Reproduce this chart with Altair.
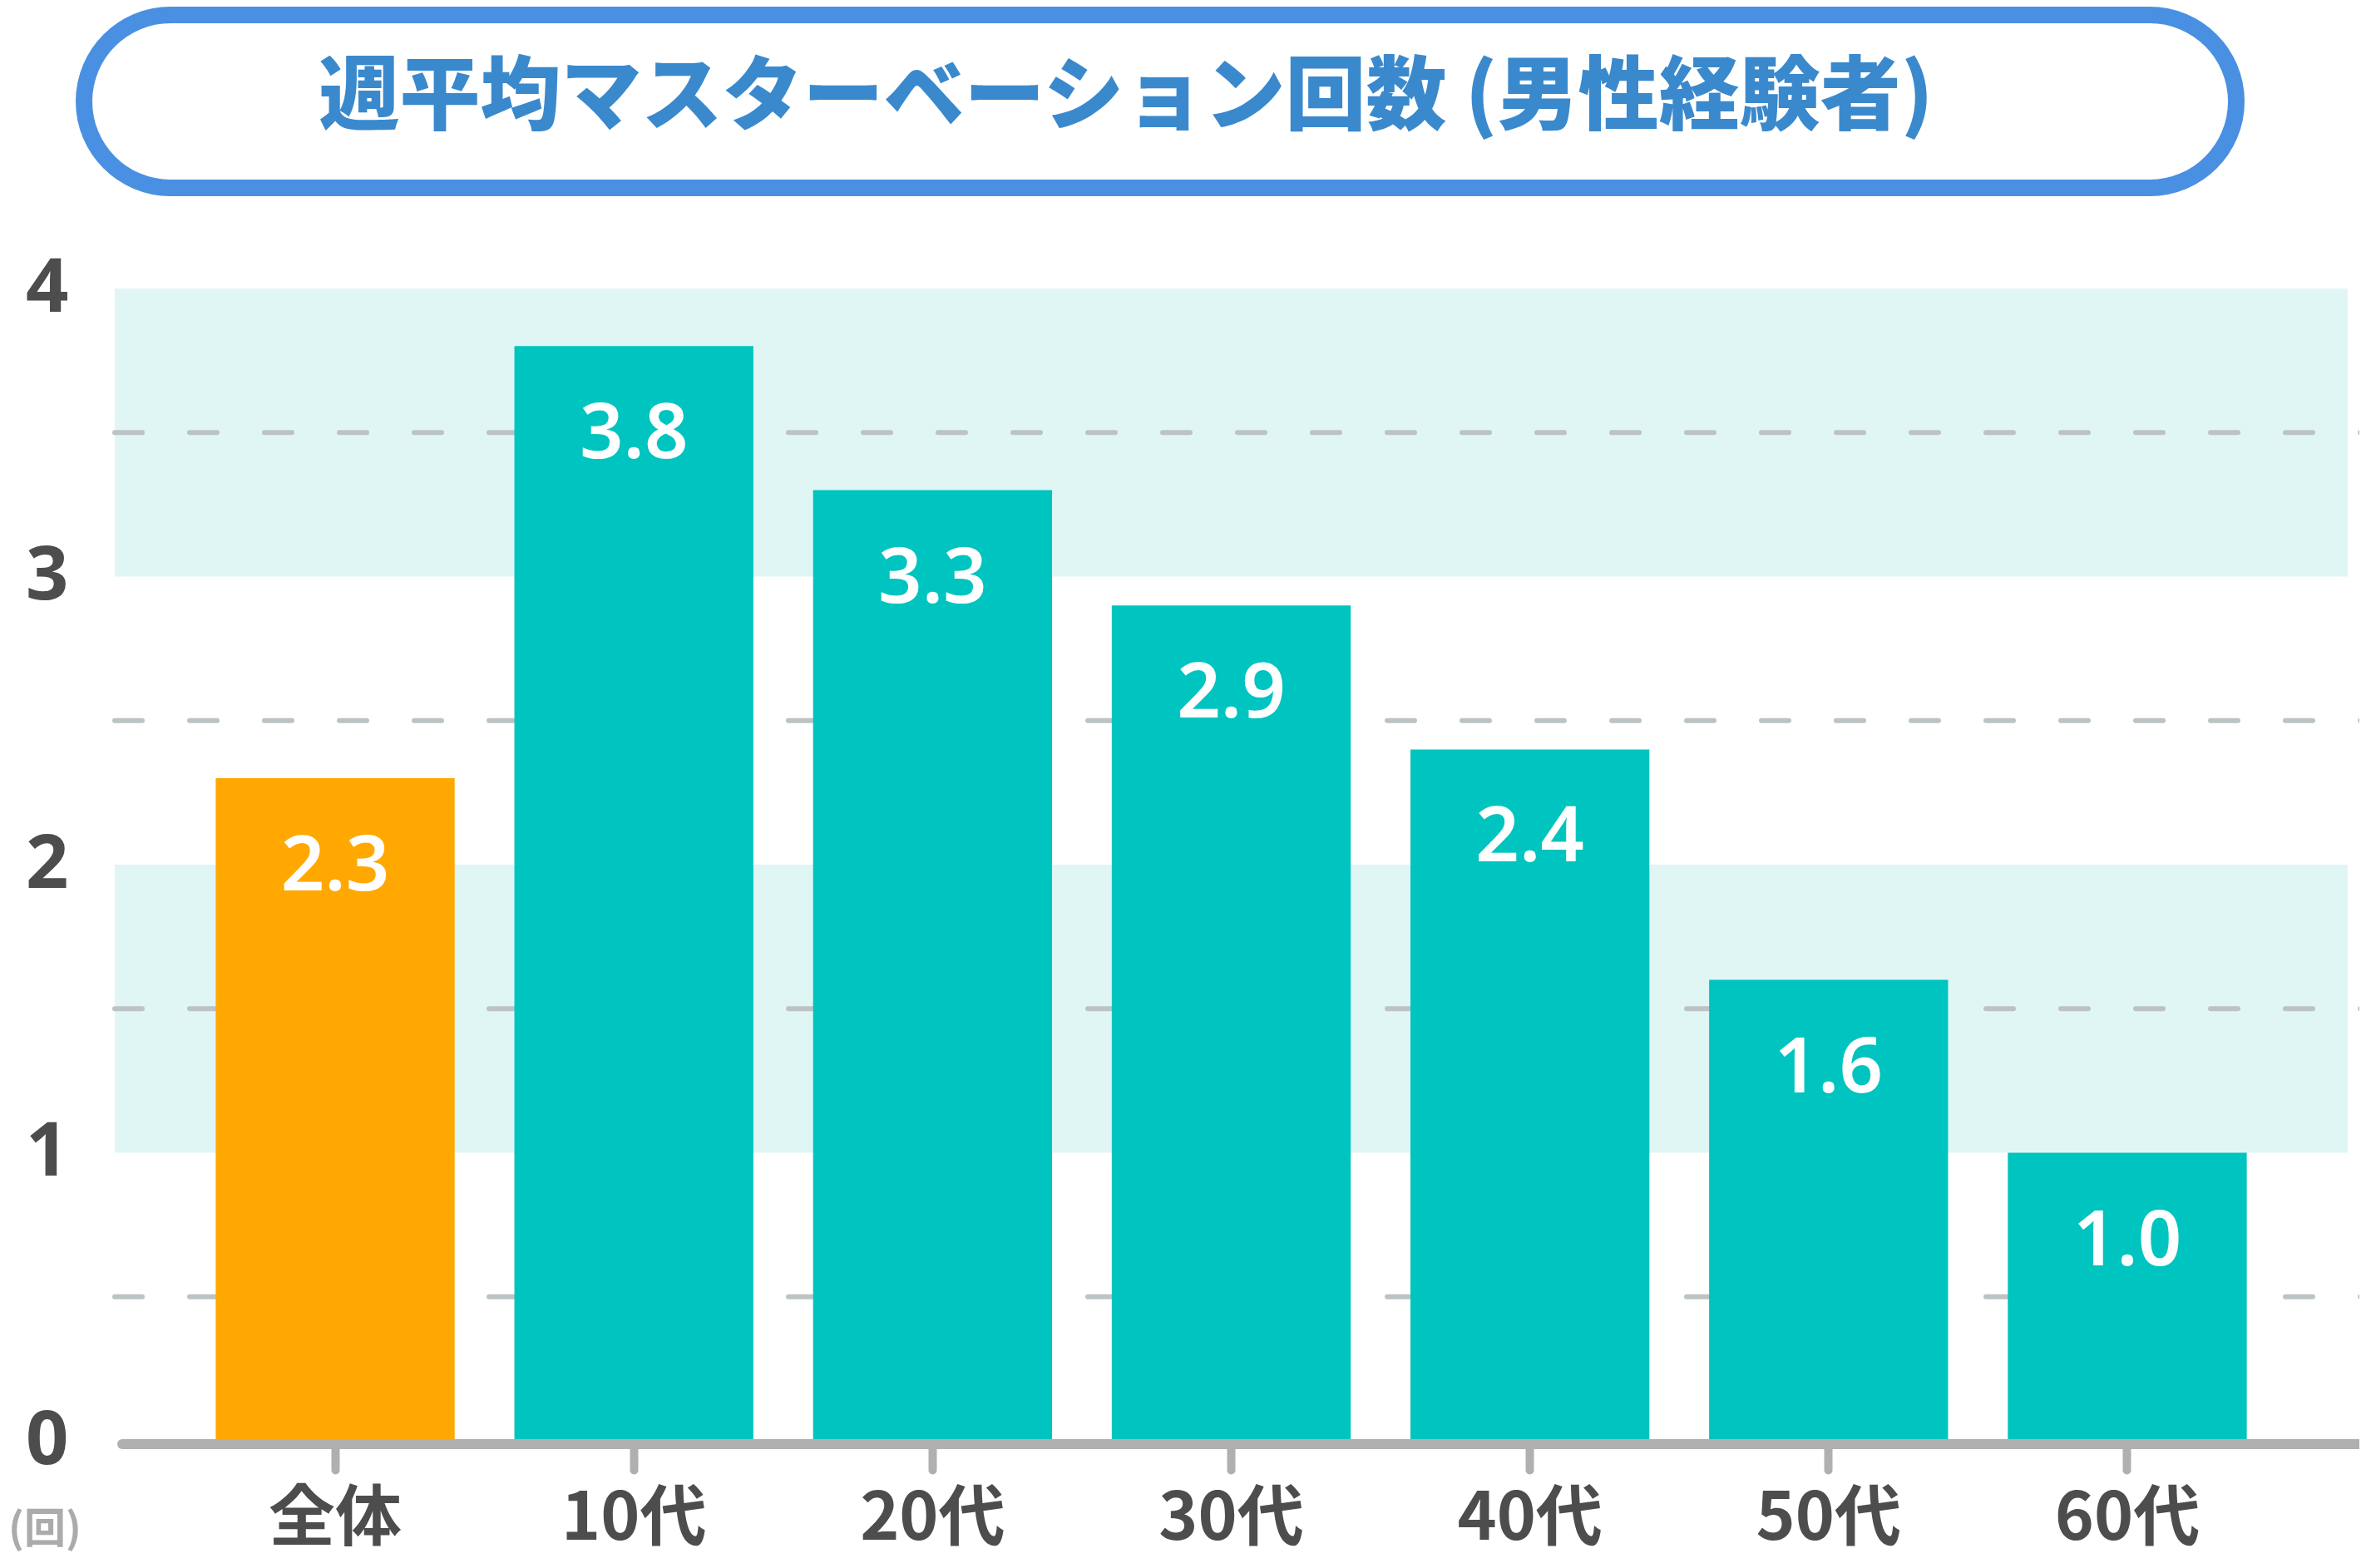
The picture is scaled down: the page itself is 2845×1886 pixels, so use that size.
import pandas as pd
import altair as alt

# data
categories = ["全体", "10代", "20代", "30代", "40代", "50代", "60代"]
values = [2.3, 3.8, 3.3, 2.9, 2.4, 1.6, 1.0]
groups = ["全体", "年代", "年代", "年代", "年代", "年代", "年代"]
band_from = [1, 3]
band_to = [2, 4]
grid_values = [0.5, 1.5, 2.5, 3.5]
y_ticks = [0, 1, 2, 3, 4]
title_text = "週平均マスターベーション回数 (男性経験者)"
unit_text = "(回)"

W, H = 2685, 1386
TEAL = "#00C4BF"
ORANGE = "#FFA801"
GRAY_TEXT = "#4D4D4D"

df = pd.DataFrame({"cat": categories, "val": values, "grp": groups})
bands = pd.DataFrame({"y0": band_from, "y1": band_to})
grid = pd.DataFrame({"g": grid_values})
one = pd.DataFrame({"t": [title_text]})
unit = pd.DataFrame({"t": [unit_text]})

yscale = alt.Scale(domain=[0, 4], nice=False)

band_layer = (
    alt.Chart(bands)
    .mark_rect(color="#E0F6F4")
    .encode(
        y=alt.Y("y0:Q", scale=yscale,
                axis=alt.Axis(values=y_ticks, format="d", grid=False, domain=False,
                              ticks=False, tickSize=0, labelPadding=56,
                              labelFont="Noto Sans", labelFontWeight="bold",
                              labelFontSize=90, labelColor=GRAY_TEXT,
                              labelBaseline="middle", title=None)),
        y2="y1:Q",
        x=alt.value(0),
        x2=alt.value(W),
    )
)

grid_layer = (
    alt.Chart(grid)
    .mark_rule(color="#BCC3C4", strokeWidth=6, strokeDash=[33, 57], strokeCap="round")
    .encode(y=alt.Y("g:Q", scale=yscale), x=alt.value(0), x2=alt.value(W + 20))
)

bars = (
    alt.Chart(df)
    .mark_bar()
    .encode(
        x=alt.X("cat:N", sort=categories,
                scale=alt.Scale(paddingInner=0.2, paddingOuter=0.338),
                axis=alt.Axis(domain=False, ticks=True, tickSize=35, tickWidth=10,
                              tickColor="#B0B0B0", tickCap="round", labelAngle=0,
                              labelPadding=20, labelLimit=0,
                              labelFont="Noto Sans CJK JP", labelFontWeight="bold",
                              labelFontSize=80, labelColor=GRAY_TEXT, title=None)),
        y=alt.Y("val:Q", scale=yscale),
        color=alt.Color("grp:N", scale=alt.Scale(domain=["全体", "年代"], range=[ORANGE, TEAL]),
                        legend=None),
    )
)

labels = (
    alt.Chart(df)
    .mark_text(color="white", font="Noto Sans", fontWeight=600, fontSize=92,
               baseline="middle", dy=107)
    .encode(x=alt.X("cat:N", sort=categories), y=alt.Y("val:Q", scale=yscale),
            text=alt.Text("val:Q", format=".1f"))
)

axis_line = (
    alt.Chart(unit)
    .mark_rule(color="#B0B0B0", strokeWidth=12, strokeCap="round")
    .encode(y=alt.value(H + 4), x=alt.value(9), x2=alt.value(2700))
)

title_box = (
    alt.Chart(one)
    .mark_rect(fill="white", stroke="#4A90E2", strokeWidth=20, cornerRadius=104)
    .encode(x=alt.value(-37), x2=alt.value(2551), y=alt.value(-329), y2=alt.value(-121))
)

title = (
    alt.Chart(one)
    .mark_text(color="#3A89CD", font="Noto Sans CJK JP", fontWeight=900, fontSize=97,
               align="center", baseline="middle")
    .encode(text="t:N", x=alt.value(1216), y=alt.value(-228))
)

unit_label = (
    alt.Chart(unit)
    .mark_text(color="#ABABAB", font="Noto Sans CJK JP", fontWeight="bold", fontSize=50,
               align="center", baseline="middle")
    .encode(text="t:N", x=alt.value(-84), y=alt.value(1494))
)

chart = (
    alt.layer(band_layer, grid_layer, bars, labels, axis_line, title_box, title, unit_label)
    .resolve_scale(x="shared", y="shared")
    .properties(
        width=W,
        height=H,
        padding={"left": 130, "top": 339, "right": 14, "bottom": 145},
        autosize=alt.AutoSizeParams(type="none"),
    )
    .configure_view(stroke=None)
)

chart.save("out.html", embed_options={"renderer": "svg", "actions": False})
